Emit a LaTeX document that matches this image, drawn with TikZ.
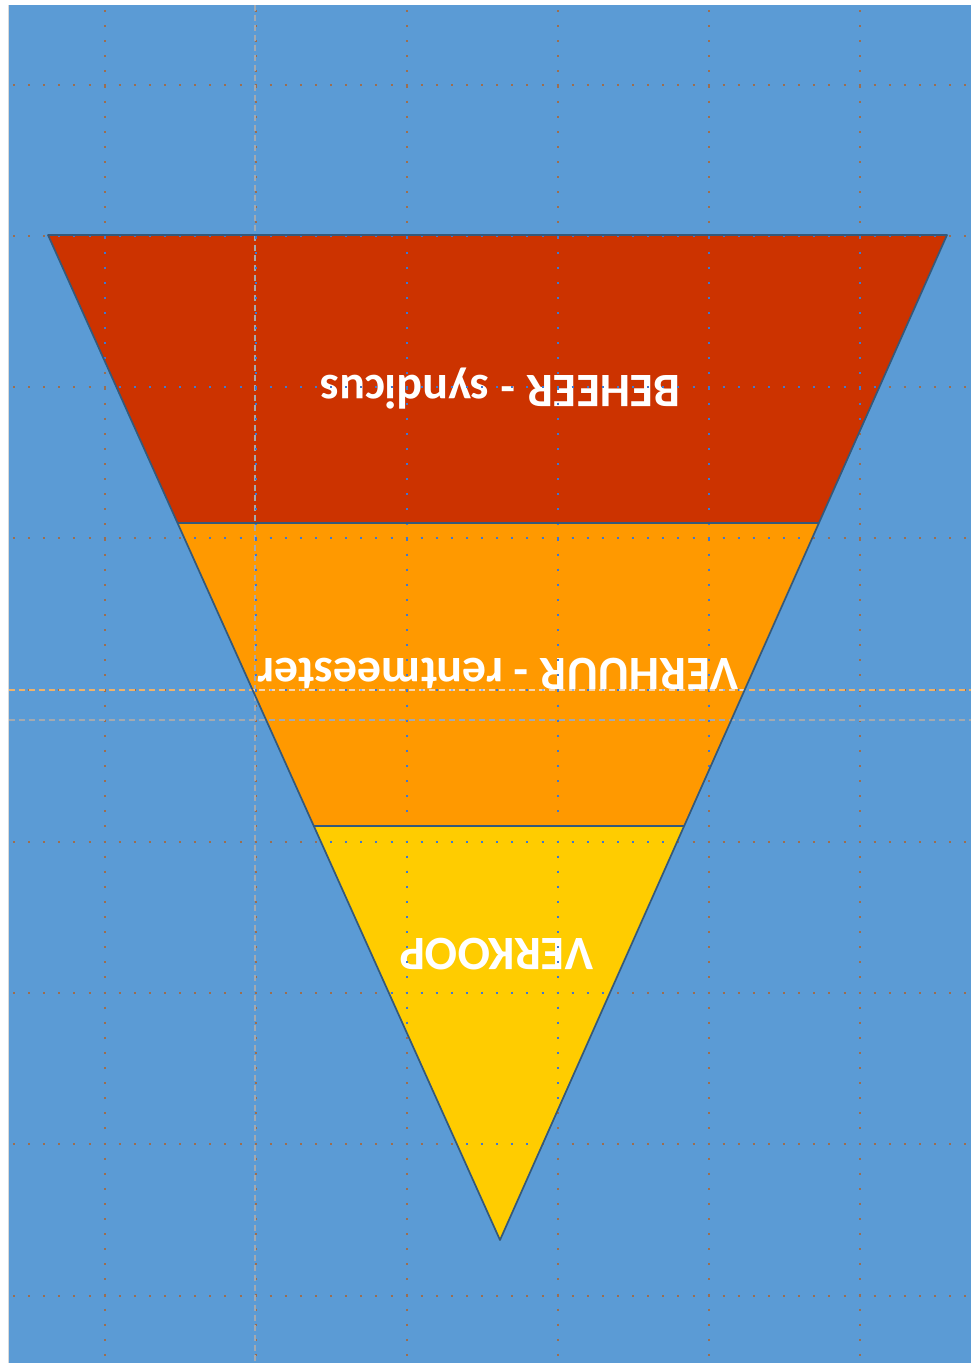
\documentclass[tikz,border=0pt]{standalone}
\usepackage{fontspec}
\setmainfont{Carlito}
\definecolor{bgblue}{HTML}{5B9BD5}
\definecolor{bandred}{HTML}{CC3300}
\definecolor{bandorange}{HTML}{FF9900}
\definecolor{bandyellow}{HTML}{FFCC00}
\definecolor{outlinec}{HTML}{35597A}
\definecolor{dotbrown}{HTML}{9C6E50}
\definecolor{dotblue}{HTML}{3F78D0}
\definecolor{dashgray}{HTML}{A3A9B0}
\definecolor{dashorange}{HTML}{EEB26A}
\tikzset{
  dotgrid/.style={line width=2pt, dash pattern=on 2pt off 13.1pt, draw=dotbrown},
  dotgridin/.style={dotgrid, draw=dotblue},
  graydash/.style={line width=1.3pt, dash pattern=on 6pt off 4pt, draw=dashgray},
  orangedash/.style={line width=1.3pt, dash pattern=on 6pt off 4pt, draw=dashorange},
  orangedashin/.style={orangedash, draw=white, draw opacity=0.45},
  outline/.style={draw=outlinec, line width=1.7pt, line join=round},
  lbl/.style={font=\bfseries\fontsize{48}{52}\selectfont, text=white, rotate=180, anchor=base, inner sep=0pt},
}
\begin{document}
\begin{tikzpicture}[x=1pt,y=-1pt]
\useasboundingbox (0,0) rectangle (971,1363);
\fill[white] (0,0) rectangle (971,1363);
\fill[bgblue] (9,5) rectangle (971,1363);
\draw[gray!30, line width=0.8pt] (8.6,5) -- (8.6,1363);
% funnel geometry
\coordinate (TL) at (48,235);
\coordinate (TR) at (947,235);
\coordinate (A) at (500,1240);
\coordinate (L1) at (177.5,523);
\coordinate (R1) at (819,523);
\coordinate (L2) at (314,826);
\coordinate (R2) at (684,826);
\fill[bandred] (TL) -- (TR) -- (R1) -- (L1) -- cycle;
\fill[bandorange] (L1) -- (R1) -- (R2) -- (L2) -- cycle;
\fill[bandyellow] (L2) -- (R2) -- (A) -- cycle;
% labels
\node[lbl] (beheer) at (500.5,375) {BEHEER - syndicus};
\node[lbl] (verhuur) at (498,658) {VERHUUR - rentmeester};
\node[lbl] (verkoop) at (496.5,938) {VERKOOP};
% grid outside
\foreach \x in {105,256,407,558,709,860} \draw[dotgrid] (\x,10) -- (\x,1363);
\foreach \y in {85,236,387,538,690,842,993,1144,1296} \draw[dotgrid] (13,\y) -- (971,\y);
\draw[graydash] (255,5) -- (255,1363);
\draw[graydash] (9,720) -- (971,720);
\draw[orangedash] (9,690) -- (971,690);
% grid inside funnel
\begin{scope}
\clip (TL) -- (TR) -- (A) -- cycle;
\foreach \x in {105,256,407,558,709,860} \draw[dotgridin] (\x,10) -- (\x,1363);
\foreach \y in {85,236,387,538,690,842,993,1144,1296} \draw[dotgridin] (13,\y) -- (971,\y);
\draw[orangedashin] (9,690) -- (971,690);
\end{scope}
% outlines
\draw[outline] (TL) -- (TR) -- (A) -- cycle;
\draw[outline] (L1) -- (R1);
\draw[outline] (L2) -- (R2);
\end{tikzpicture}
\end{document}
